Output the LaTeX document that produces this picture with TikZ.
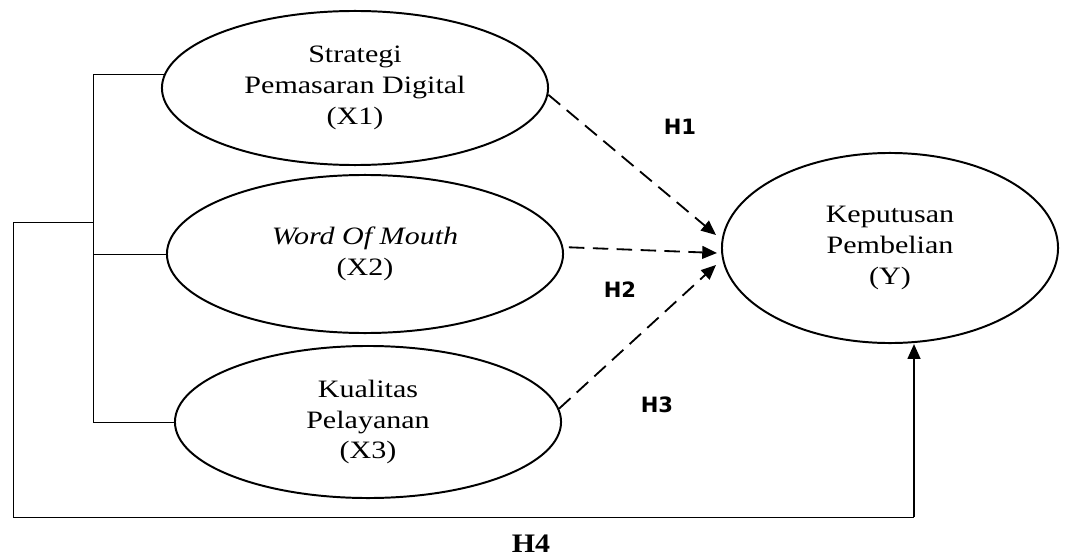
\documentclass[tikz,border=0pt]{standalone}
\usepackage{fontspec}
\setmainfont{Liberation Serif}[FakeStretch=1.2]
\newfontfamily\hlabelfont{DejaVu Sans}
\newfontfamily\hfourfont{Liberation Serif}[FakeStretch=1.12]
\usetikzlibrary{shapes.geometric,arrows.meta}

\tikzset{
  construct/.style={ellipse,draw,line width=1.4pt,inner sep=0pt,align=center,
    font=\fontsize{17.8pt}{22pt}\selectfont},
  bracket/.style={line width=0.7pt},
  hyparrow/.style={line width=1.3pt,dash pattern=on 11pt off 6pt,
    -{Triangle[length=10.5pt,width=9pt]}},
  hlabel/.style={font=\hlabelfont\bfseries\fontsize{15pt}{18pt}\selectfont}
}

\begin{document}
\begin{tikzpicture}[x=0.025cm,y=-0.025cm]
    \useasboundingbox (0,0) rectangle (1085,558);
    % the three predictors and the outcome
    \node[construct,minimum width=9.65cm,minimum height=3.85cm] (X1) at (355,88) {Strategi\\Pemasaran Digital\\(X1)};
    \node[construct,minimum width=9.9cm,minimum height=3.95cm] (X2) at (365,254) {\textit{Word Of Mouth}\\(X2)};
    \node[construct,minimum width=9.65cm,minimum height=3.8cm] (X3) at (368,422) {Kualitas\\Pelayanan\\(X3)};
    \node[construct,minimum width=8.4cm,minimum height=4.75cm] (Y) at (890,248) {Keputusan\\Pembelian\\(Y)};
    \coordinate (jn) at (93,0);
    \coordinate (outer) at (13,222);
    \coordinate (h4corner) at (914,517);
    \coordinate (h1end) at (716,235);
    \coordinate (h2end) at (717,253);
    \coordinate (h3end) at (716,265);
    % left bracket joining X1, X2, X3
    \draw[bracket] (X1.176) -| (jn |- X3.west) -- (X3.west);
    \draw[bracket] (X2.west -| jn) -- (X2.west);
    % simultaneous path (H4)
    \draw[bracket] (jn |- outer) -- (outer) |- (h4corner);
    \draw[line width=1.5pt,-{Triangle[length=10.5pt,width=9pt]}] (h4corner) -- (h4corner |- Y.south);
    % partial paths
    \draw[hyparrow] (X1.-2) -- (h1end);
    \draw[hyparrow,shorten <=4pt] (X2.2) -- (h2end);
    \draw[hyparrow] (X3.4) -- (h3end);
    \node[hlabel] (h1) at (680,127) {H1};
    \node[hlabel] (h2) at (620,290) {H2};
    \node[hlabel] (h3) at (657,405) {H3};
    \node[font=\hfourfont\bfseries\fontsize{19pt}{22pt}\selectfont] (h4) at (531,544) {H4};
\end{tikzpicture}
\end{document}
